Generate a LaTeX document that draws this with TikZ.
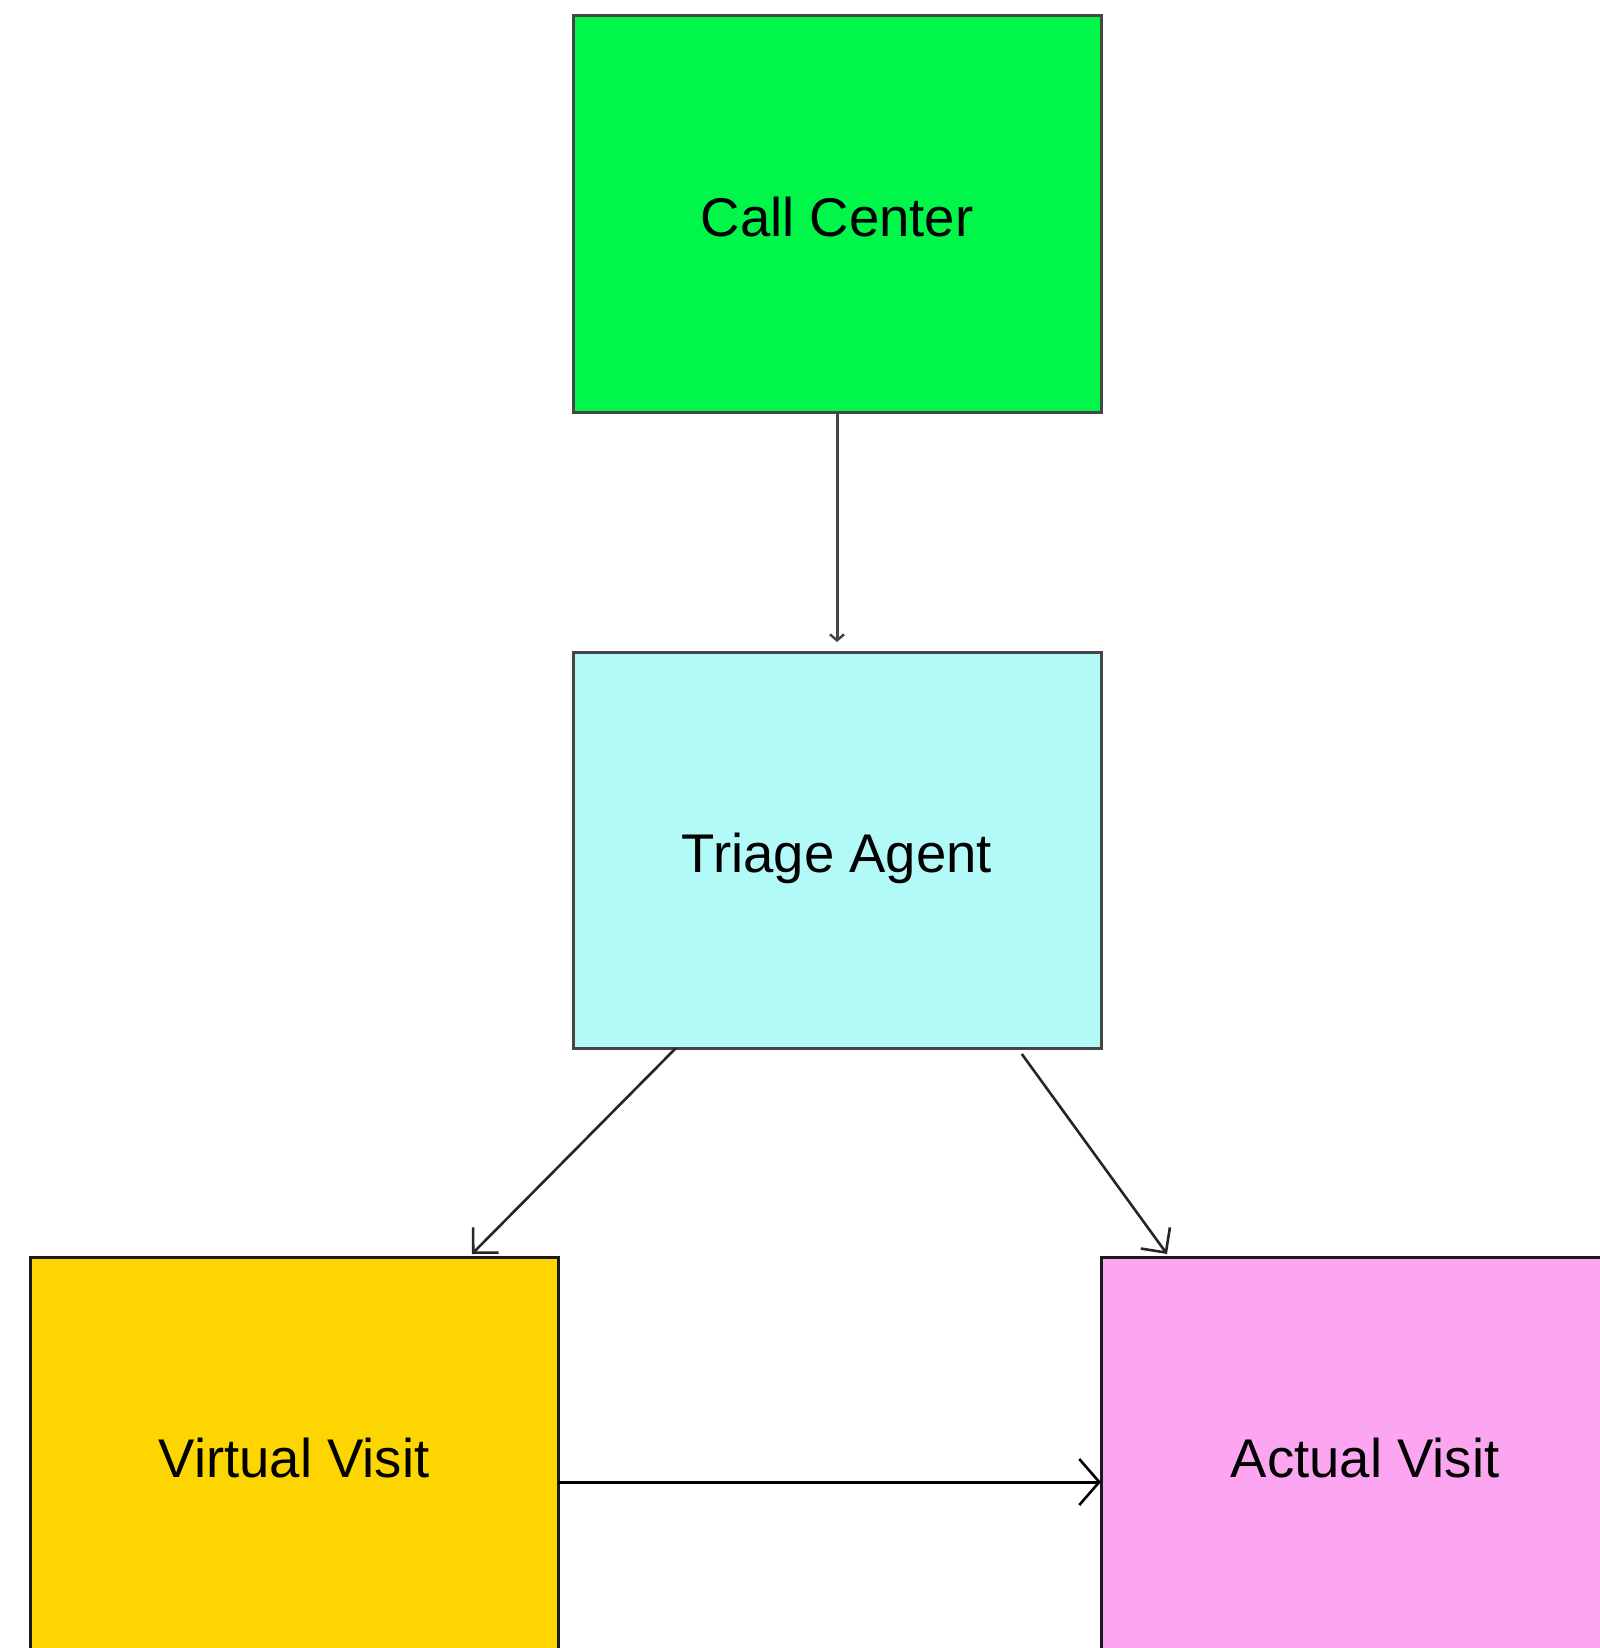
\documentclass[tikz,border=0pt]{standalone}
\usepackage{fontspec}
\setmainfont{Liberation Sans}
\usetikzlibrary{arrows.meta,calc}
\definecolor{ccgreen}{RGB}{0,246,72}
\definecolor{tacyan}{RGB}{178,250,247}
\definecolor{vvyellow}{RGB}{253,213,0}
\definecolor{avpink}{RGB}{252,166,242}
\definecolor{edgegray}{RGB}{70,70,70}
\tikzset{
  stagebox/.style={rectangle, draw, line width=3pt, outer sep=0pt, inner sep=0pt,
    minimum width=528pt, minimum height=396pt, text height=46pt, text depth=2pt,
    font=\fontsize{54.5}{65}\selectfont},
  flow/.style={line width=2.6pt, -{Straight Barb[length=18pt,width=36pt,line width=2.6pt]}},
}
\begin{document}
\begin{tikzpicture}[x=1pt,y=-1pt]
  \useasboundingbox (0,0) rectangle (1599,1648);
  % boxes
  \node[stagebox, fill=ccgreen, draw=edgegray] (cc) at (837,214) {Call Center};
  \node[stagebox, fill=tacyan, draw=edgegray] (ta) at (837,850) {Triage Agent};
  \node[stagebox, fill=vvyellow, draw=black!90] (vv) at (294,1455) {Virtual Visit};
  \node[stagebox, fill=avpink, draw=black!90] (av) at (1365,1455) {Actual Visit};
  % connectors
  \draw[line width=3pt, draw=edgegray, -{Straight Barb[length=6pt,width=14pt,line width=2.5pt]}]
    (cc.south) -- ($(ta.north)+(0,-10)$);
  \draw[flow, draw=black!85]
    ($(ta.south west)!0.195!(ta.south east)$) -- ($(vv.north west)!0.837!(vv.north east)+(0,-3)$);
  \draw[flow, draw=black!85]
    ($(ta.south west)!0.85!(ta.south east)+(0,6)$) -- ($(av.north west)!0.125!(av.north east)+(0,-3)$);
  \draw[line width=3pt, draw=black, -{Straight Barb[length=20pt,width=46pt,line width=2.6pt]}]
    ($(vv.east)+(0,27)$) -- ($(av.west)+(0,27)$);
\end{tikzpicture}
\end{document}
